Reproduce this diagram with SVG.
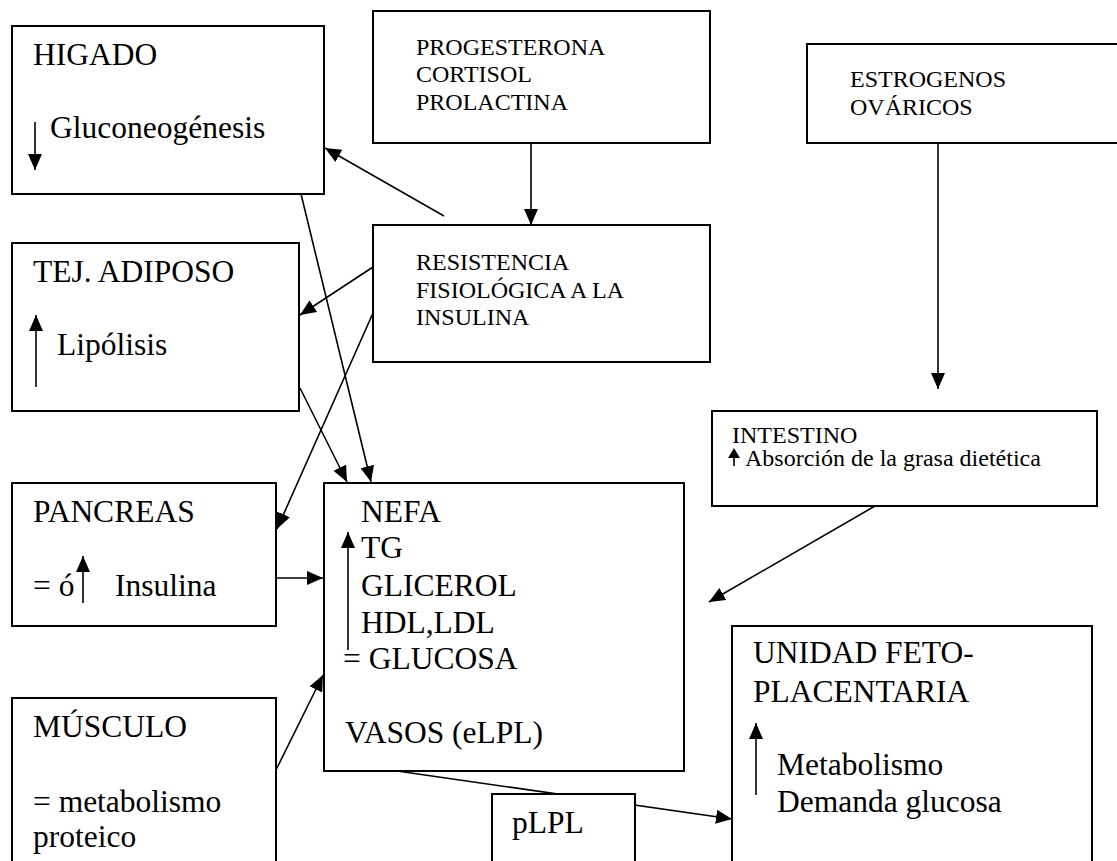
<svg xmlns="http://www.w3.org/2000/svg" width="1117" height="861" viewBox="0 0 1117 861">
<style>
.box{fill:#fff;stroke:#000;stroke-width:2}
text{fill:#000}
.L{font-size:31.5px}
.S{font-size:24px}
.c{stroke:#000;stroke-width:1.6;fill:none}
</style>
<defs>
<marker id="ah" markerUnits="userSpaceOnUse" markerWidth="16" markerHeight="14" refX="16" refY="7" orient="auto">
<path d="M0,0 L16,7 L0,14 z" fill="#000"/>
</marker>
</defs>
<rect width="1117" height="861" fill="#fff"/>

<g id="connectors">
<line class="c" x1="531" y1="143" x2="531" y2="225" marker-end="url(#ah)"/>
<line class="c" x1="938" y1="143" x2="938" y2="389" marker-end="url(#ah)"/>
<line class="c" x1="444" y1="216" x2="325" y2="148" marker-end="url(#ah)"/>
<line class="c" x1="373" y1="267" x2="300" y2="315" marker-end="url(#ah)"/>
<line class="c" x1="373" y1="313" x2="277" y2="529" marker-end="url(#ah)"/>
<line class="c" x1="301" y1="194" x2="371" y2="482" marker-end="url(#ah)"/>
<line class="c" x1="300" y1="388" x2="347" y2="482" marker-end="url(#ah)"/>
<line class="c" x1="276" y1="578" x2="323" y2="578" marker-end="url(#ah)"/>
<line class="c" x1="276" y1="770" x2="323" y2="675" marker-end="url(#ah)"/>
<line class="c" x1="875" y1="506" x2="709" y2="602" marker-end="url(#ah)"/>
<line class="c" x1="397" y1="771" x2="732" y2="819" marker-end="url(#ah)"/>
</g>

<g font-family="Liberation Serif, Tinos, DejaVu Serif, serif">
<g id="higado">
<rect class="box" x="12" y="26" width="312" height="168"/>
<text class="L" x="33" y="65">HIGADO</text>
<line class="c" x1="35" y1="122" x2="35" y2="170" marker-end="url(#ah)"/>
<text class="L" x="50" y="138">Gluconeogénesis</text>
</g>

<g id="hormonas">
<rect class="box" x="373" y="11" width="337" height="132"/>
<text class="S" x="416" y="55">PROGESTERONA</text>
<text class="S" x="416" y="82">CORTISOL</text>
<text class="S" x="416" y="110">PROLACTINA</text>
</g>

<g id="resistencia">
<rect class="box" x="373" y="225" width="337" height="137"/>
<text class="S" x="416" y="270">RESISTENCIA</text>
<text class="S" x="416" y="298">FISIOLÓGICA A LA</text>
<text class="S" x="416" y="325">INSULINA</text>
</g>

<g id="estrogenos">
<rect class="box" x="807" y="44" width="320" height="99"/>
<text class="S" x="850" y="87">ESTROGENOS</text>
<text class="S" x="850" y="115">OVÁRICOS</text>
</g>

<g id="adiposo">
<rect class="box" x="12" y="243" width="287" height="168"/>
<text class="L" x="33" y="282">TEJ. ADIPOSO</text>
<line class="c" x1="36" y1="387" x2="36" y2="315" marker-end="url(#ah)"/>
<text class="L" x="57" y="355">Lipólisis</text>
</g>

<g id="intestino">
<rect class="box" x="712" y="411" width="385" height="95"/>
<text class="S" x="732" y="443">INTESTINO</text>
<line x1="734" y1="455" x2="734" y2="466" stroke="#000" stroke-width="1.6"/>
<path d="M728,458 L734,448 L740,458 z" fill="#000"/>
<text class="S" x="745" y="466">Absorción de la grasa dietética</text>
</g>

<g id="pancreas">
<rect class="box" x="12" y="483" width="264" height="143"/>
<text class="L" x="33" y="522">PANCREAS</text>
<text class="L" x="33" y="596">= ó</text>
<line class="c" x1="83" y1="603" x2="83" y2="556" marker-end="url(#ah)"/>
<text class="L" x="115" y="596">Insulina</text>
</g>

<g id="nefa">
<rect class="box" x="324" y="483" width="360" height="288"/>
<text class="L" x="361" y="522">NEFA</text>
<text class="L" x="361" y="558">TG</text>
<text class="L" x="361" y="596">GLICEROL</text>
<text class="L" x="361" y="633">HDL,LDL</text>
<text class="L" x="343" y="669">= GLUCOSA</text>
<line class="c" x1="348" y1="650" x2="348" y2="532" marker-end="url(#ah)"/>
<text class="L" x="345" y="743">VASOS (eLPL)</text>
</g>

<g id="musculo">
<rect class="box" x="12" y="698" width="264" height="180"/>
<text class="L" x="33" y="737">MÚSCULO</text>
<text class="L" x="33" y="812">= metabolismo</text>
<text class="L" x="33" y="847">proteico</text>
</g>

<g id="plpl">
<rect class="box" x="492" y="794" width="143" height="90"/>
<text class="L" x="512" y="833">pLPL</text>
</g>

<g id="feto">
<rect class="box" x="732" y="626" width="360" height="250"/>
<text class="L" x="753" y="663">UNIDAD FETO-</text>
<text class="L" x="753" y="702">PLACENTARIA</text>
<line class="c" x1="756" y1="795" x2="756" y2="723" marker-end="url(#ah)"/>
<text class="L" x="777" y="775">Metabolismo</text>
<text class="L" x="777" y="812">Demanda glucosa</text>
</g>
</g>
</svg>
